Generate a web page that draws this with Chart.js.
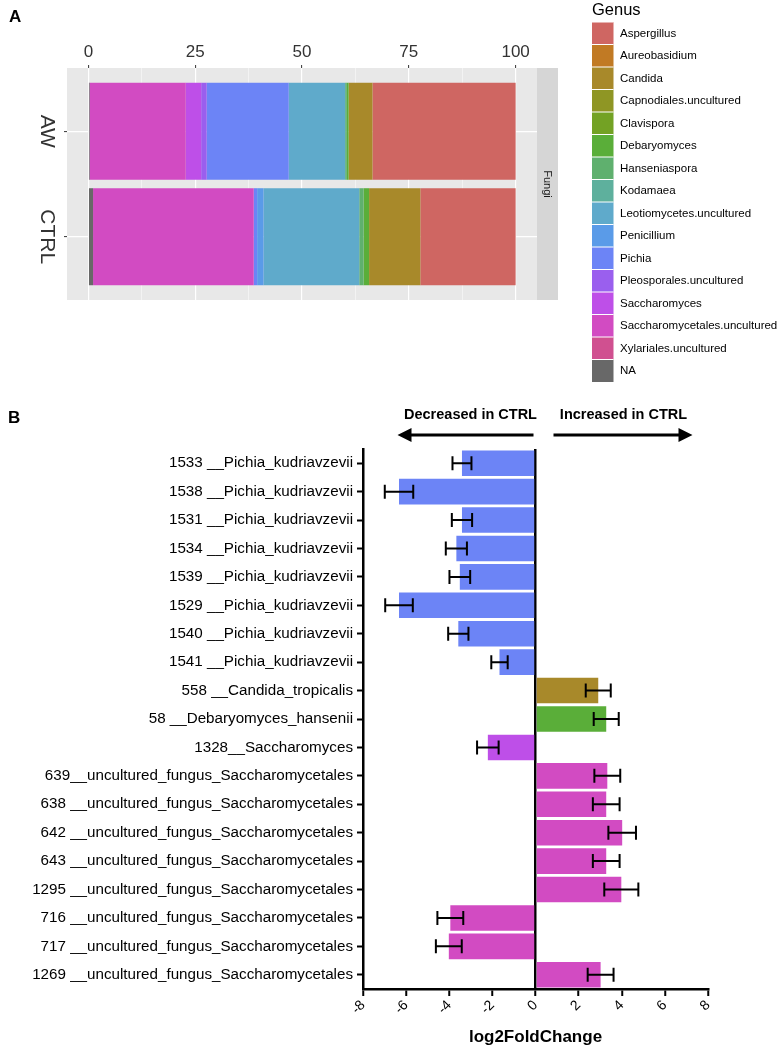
<!DOCTYPE html>
<html>
<head>
<meta charset="utf-8">
<script src="https://cdn.jsdelivr.net/npm/chart.js@4.4.0/dist/chart.umd.min.js"></script>
<style>
    body { margin: 0; background: #fff; width: 782px; height: 1048px; position: relative; overflow: hidden; }
    #panelA { position: absolute; left: 0; top: 0; }
    #panelB { position: absolute; left: 0; top: 360px; }
</style>
</head>
<body>
<canvas id="panelA" width="782" height="390"></canvas>
<canvas id="panelB" width="782" height="688"></canvas>
<script>
// Panel A: relative abundance of genera per sample (%)
const genera = ['Aspergillus', 'Aureobasidium', 'Candida', 'Capnodiales.uncultured', 'Clavispora',
    'Debaryomyces', 'Hanseniaspora', 'Kodamaea', 'Leotiomycetes.uncultured', 'Penicillium', 'Pichia',
    'Pleosporales.uncultured', 'Saccharomyces', 'Saccharomycetales.uncultured', 'Xylariales.uncultured', 'NA'];
const genusColors = ['#CF6662', '#C17A24', '#A8892A', '#8F9624', '#73A224', '#5AAE39', '#5FB06E', '#5EB09D',
    '#5FAACB', '#5A9BE8', '#6C84F6', '#9A5FEE', '#BE4FE8', '#D24BC2', '#D05090', '#686868'];
const samples = ['AW', 'CTRL'];
const awAbund = [33.5, 0, 5.6, 0, 0, 0.4, 0.4, 0, 13.2, 0, 19.2, 1.3, 3.6, 22.5, 0, 0.3];
const ctrlAbund = [22.3, 0, 12.0, 0, 0, 1.3, 1.0, 0, 22.4, 1.5, 0.8, 0, 0, 37.6, 0, 1.1];
const abundTicks = [0, 12.5, 25, 37.5, 50, 62.5, 75, 87.5, 100];

// Panel B: log2 fold change per ASV
const rowLabels = ['1533 __Pichia_kudriavzevii', '1538 __Pichia_kudriavzevii', '1531 __Pichia_kudriavzevii',
    '1534 __Pichia_kudriavzevii', '1539 __Pichia_kudriavzevii', '1529 __Pichia_kudriavzevii',
    '1540 __Pichia_kudriavzevii', '1541 __Pichia_kudriavzevii', '558 __Candida_tropicalis',
    '58 __Debaryomyces_hansenii', '1328__Saccharomyces', '639__uncultured_fungus_Saccharomycetales',
    '638 __uncultured_fungus_Saccharomycetales', '642 __uncultured_fungus_Saccharomycetales',
    '643 __uncultured_fungus_Saccharomycetales', '1295 __uncultured_fungus_Saccharomycetales',
    '716 __uncultured_fungus_Saccharomycetales', '717 __uncultured_fungus_Saccharomycetales',
    '1269 __uncultured_fungus_Saccharomycetales'];
const lfcValues = [-3.41, -6.33, -3.41, -3.67, -3.51, -6.33, -3.58, -1.67, 2.91, 3.28, -2.21,
    3.33, 3.28, 4.02, 3.28, 3.98, -3.95, -4.02, 3.02];
const lfcErrors = [0.44, 0.66, 0.47, 0.49, 0.48, 0.64, 0.47, 0.38, 0.58, 0.58, 0.5,
    0.6, 0.62, 0.64, 0.62, 0.79, 0.6, 0.6, 0.6];
const rowGenus = ['Pichia', 'Pichia', 'Pichia', 'Pichia', 'Pichia', 'Pichia', 'Pichia', 'Pichia',
    'Candida', 'Debaryomyces', 'Saccharomyces', 'Saccharomycetales.uncultured',
    'Saccharomycetales.uncultured', 'Saccharomycetales.uncultured', 'Saccharomycetales.uncultured',
    'Saccharomycetales.uncultured', 'Saccharomycetales.uncultured', 'Saccharomycetales.uncultured',
    'Saccharomycetales.uncultured'];
const lfcTicks = [-8, -6, -4, -2, 0, 2, 4, 6, 8];

const FONT = '"Liberation Sans", Arial, Helvetica, sans-serif';
Chart.defaults.font.family = FONT;

function colorOf(genus) {
    return genusColors[genera.indexOf(genus)];
}

// ggplot-like panel, facet strip, rotated sample labels and legend
const panelAPlugin = {
    id: 'panelA',
    beforeDraw(chart) {
        const { ctx, chartArea } = chart;
        ctx.save();
        ctx.fillStyle = '#E8E8E8';
        ctx.fillRect(chartArea.left, chartArea.top, chartArea.right - chartArea.left, chartArea.bottom - chartArea.top);
        ctx.restore();
    },
    afterDraw(chart) {
        const { ctx, chartArea } = chart;
        const yScale = chart.scales.y;
        ctx.save();

        // facet strip
        ctx.fillStyle = '#D6D6D6';
        ctx.fillRect(chartArea.right, chartArea.top, 21, chartArea.bottom - chartArea.top);
        ctx.fillStyle = '#1A1A1A';
        ctx.font = '11px ' + FONT;
        ctx.textAlign = 'center';
        ctx.textBaseline = 'middle';
        ctx.save();
        ctx.translate(chartArea.right + 10.5, (chartArea.top + chartArea.bottom) / 2);
        ctx.rotate(Math.PI / 2);
        ctx.fillText('Fungi', 0, 0);
        ctx.restore();

        // sample labels
        ctx.fillStyle = '#333';
        ctx.font = '21px ' + FONT;
        samples.forEach((s, i) => {
            ctx.save();
            ctx.translate(47, yScale.getPixelForValue(i + 1));
            ctx.rotate(Math.PI / 2);
            ctx.fillText(s, 0, 0);
            ctx.restore();
        });

        // legend
        ctx.textAlign = 'left';
        ctx.fillStyle = '#000';
        ctx.font = '16.5px ' + FONT;
        ctx.fillText('Genus', 592, 10);
        ctx.font = '11.5px ' + FONT;
        genera.forEach((g, k) => {
            const top = 22 + k * 22.5;
            ctx.fillStyle = genusColors[k];
            ctx.fillRect(592, top, 21.5, 22.5);
            ctx.strokeStyle = '#fff';
            ctx.lineWidth = 1;
            ctx.beginPath();
            ctx.moveTo(592, top);
            ctx.lineTo(613.5, top);
            ctx.stroke();
            ctx.fillStyle = '#000';
            ctx.fillText(g, 620, top + 11.5);
        });

        // panel letter
        ctx.font = 'bold 17px ' + FONT;
        ctx.fillText('A', 9, 17);
        ctx.restore();
    }
};

const abundanceChart = new Chart(document.getElementById('panelA'), {
    type: 'bar',
    data: {
        datasets: genera.map((g, k) => ({
            label: g,
            data: [
                { x: awAbund[k], y: 1 },
                { x: ctrlAbund[k], y: 2 }
            ],
            backgroundColor: genusColors[k],
            borderWidth: 0
        })).reverse()
    },
    options: {
        indexAxis: 'y',
        responsive: false,
        animation: false,
        barPercentage: 0.92,
        categoryPercentage: 1,
        layout: { padding: { left: 0, right: 245, top: 0, bottom: 90 } },
        plugins: { legend: { display: false }, tooltip: { enabled: false } },
        scales: {
            x: {
                type: 'linear',
                position: 'top',
                stacked: true,
                min: -5,
                max: 105,
                afterBuildTicks: scale => { scale.ticks = abundTicks.map(v => ({ value: v })); },
                afterFit: scale => { scale.height = 68; },
                ticks: {
                    callback: v => (v % 25 === 0 ? String(v) : ''),
                    font: { size: 17 },
                    color: '#333',
                    padding: 2
                },
                grid: {
                    color: '#fff',
                    lineWidth: c => (c.tick && c.tick.value % 25 === 0 ? 1.2 : 0.5),
                    tickColor: c => (c.tick && c.tick.value % 25 === 0 ? '#333' : 'rgba(0,0,0,0)'),
                    tickLength: 3,
                    tickWidth: 1
                },
                border: { display: false }
            },
            y: {
                type: 'linear',
                stacked: true,
                reverse: true,
                offset: false,
                min: 0.4,
                max: 2.6,
                afterBuildTicks: scale => { scale.ticks = samples.map((s, i) => ({ value: i + 1 })); },
                afterFit: scale => { scale.width = 67; },
                ticks: { display: false },
                grid: { offset: false, color: '#fff', lineWidth: 1.2, tickColor: '#333', tickLength: 3, tickWidth: 1 },
                border: { display: false }
            }
        }
    },
    plugins: [panelAPlugin]
});

// error bars, direction headers and panel letter
const panelBPlugin = {
    id: 'panelB',
    afterDatasetsDraw(chart) {
        const { ctx } = chart;
        const xScale = chart.scales.x;
        const yScale = chart.scales.y;
        ctx.save();
        ctx.strokeStyle = '#000';
        ctx.lineWidth = 2;
        lfcValues.forEach((v, i) => {
            const y = yScale.getPixelForValue(i);
            const x1 = xScale.getPixelForValue(v - lfcErrors[i]);
            const x2 = xScale.getPixelForValue(v + lfcErrors[i]);
            ctx.beginPath();
            ctx.moveTo(x1, y);
            ctx.lineTo(x2, y);
            ctx.moveTo(x1, y - 7);
            ctx.lineTo(x1, y + 7);
            ctx.moveTo(x2, y - 7);
            ctx.lineTo(x2, y + 7);
            ctx.stroke();
        });
        ctx.restore();
    },
    afterDraw(chart) {
        const { ctx } = chart;
        const x0 = chart.scales.x.getPixelForValue(0);
        ctx.save();
        ctx.fillStyle = '#000';
        ctx.strokeStyle = '#000';
        ctx.textAlign = 'center';
        ctx.textBaseline = 'middle';
        ctx.font = 'bold 14.5px ' + FONT;
        ctx.fillText('Decreased in CTRL', x0 - 65, 55);
        ctx.fillText('Increased in CTRL', x0 + 88, 55);

        ctx.lineWidth = 3;
        ctx.beginPath();
        ctx.moveTo(x0 - 2, 75);
        ctx.lineTo(x0 - 128, 75);
        ctx.moveTo(x0 + 18, 75);
        ctx.lineTo(x0 + 148, 75);
        ctx.stroke();
        ctx.beginPath();
        ctx.moveTo(x0 - 138, 75);
        ctx.lineTo(x0 - 124, 68);
        ctx.lineTo(x0 - 124, 82);
        ctx.closePath();
        ctx.moveTo(x0 + 157, 75);
        ctx.lineTo(x0 + 143, 68);
        ctx.lineTo(x0 + 143, 82);
        ctx.closePath();
        ctx.fill();

        ctx.textAlign = 'left';
        ctx.font = 'bold 17px ' + FONT;
        ctx.fillText('B', 8, 58);
        ctx.restore();
    }
};

const lfcChart = new Chart(document.getElementById('panelB'), {
    type: 'bar',
    data: {
        labels: rowLabels,
        datasets: [{
            data: lfcValues,
            backgroundColor: rowGenus.map(colorOf),
            borderWidth: 0,
            barPercentage: 0.9,
            categoryPercentage: 1
        }]
    },
    options: {
        indexAxis: 'y',
        responsive: false,
        animation: false,
        layout: { padding: { left: 0, right: 74, top: 89, bottom: 0 } },
        plugins: { legend: { display: false }, tooltip: { enabled: false } },
        scales: {
            x: {
                min: -8,
                max: 8,
                afterBuildTicks: scale => { scale.ticks = lfcTicks.map(v => ({ value: v })); },
                afterFit: scale => { scale.height = 59; },
                ticks: { minRotation: 45, maxRotation: 45, font: { size: 14 }, color: '#000', padding: 1 },
                grid: {
                    color: c => (c.tick && c.tick.value === 0 ? '#000' : 'rgba(0,0,0,0)'),
                    lineWidth: 2.5,
                    tickColor: '#000',
                    tickLength: 7,
                    tickWidth: 2
                },
                border: { color: '#000', width: 2.5 },
                title: {
                    display: true,
                    text: 'log2FoldChange',
                    font: { size: 17, weight: 'bold' },
                    color: '#000',
                    padding: { top: 0, bottom: 0 }
                }
            },
            y: {
                afterFit: scale => { scale.width = 363; },
                ticks: { font: { size: 15.2 }, color: '#000', padding: 4, autoSkip: false },
                grid: { drawOnChartArea: false, offset: false, tickColor: '#000', tickLength: 6, tickWidth: 2 },
                border: { color: '#000', width: 2.5 }
            }
        }
    },
    plugins: [panelBPlugin]
});
</script>
</body>
</html>
